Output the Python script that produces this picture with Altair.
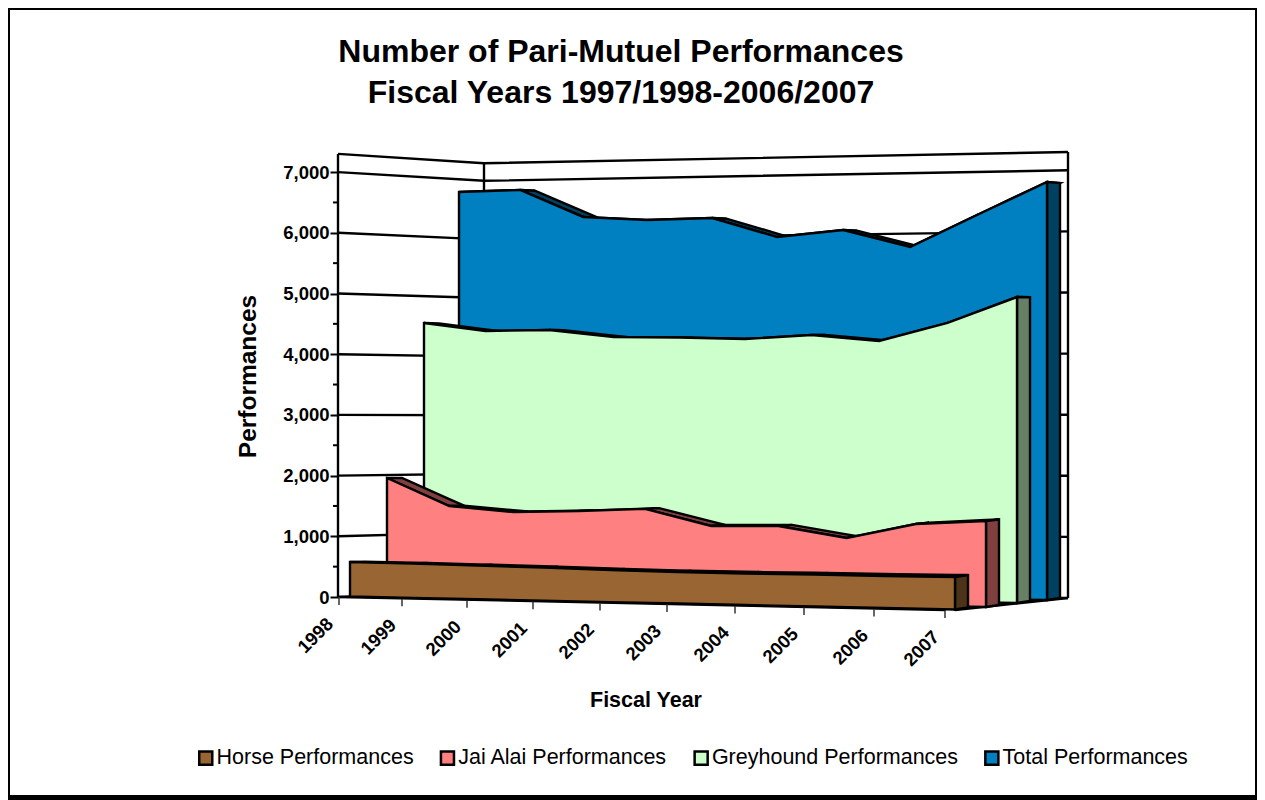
import altair as alt
import pandas as pd

years = ["1998", "1999", "2000", "2001", "2002", "2003", "2004", "2005", "2006", "2007"]
series_names = ["Horse Performances", "Jai Alai Performances", "Greyhound Performances", "Total Performances"]
horse = [570, 568, 556, 547, 529, 518, 518, 525, 525, 533]
jai_alai = [1950, 1501, 1420, 1456, 1510, 1248, 1266, 1089, 1340, 1410]
greyhound = [4546, 4417, 4438, 4327, 4324, 4304, 4377, 4284, 4586, 5016]
total = [6780, 6804, 6340, 6281, 6305, 5980, 6089, 5800, 6329, 6852]
front_colors = ["#996633", "#FF8080", "#CCFFCC", "#0080C0"]
dark_colors = ["#4D331A", "#804040", "#668066", "#004060"]
y_ticks = [0, 1000, 2000, 3000, 4000, 5000, 6000, 7000]
y_minor = [500, 1500, 2500, 3500, 4500, 5500, 6500]
wall_top = 7300

# projection of the 3-D box
W, H = 1249, 792
SW = 2.4
Y0, PX = 597.0, 0.0607
def val(py):
    return (Y0 - py) / PX
tick_x = [339, 402, 467, 533, 600, 667, 735, 804, 874, 945]
F = [(t - tick_x[0]) / (tick_x[-1] - tick_x[0]) for t in tick_x]
LEFT = [350, 387, 424, 459]
RIGHT = [955, 986, 1017, 1047]
BASE_L = [596.5, 595, 593.5, 592]
BASE_R = [609.5, 607, 603, 600]
SCALE_L = [60.5, 60, 59.5, 59]
SCALE_R = 61.0

def lerp(a, b, t):
    return a + (b - a) * t
def front(k, i, v):
    f = F[i]
    return lerp(LEFT[k], RIGHT[k], f), lerp(BASE_L[k], BASE_R[k], f) - v / 1000 * lerp(SCALE_L[k], SCALE_R, f)
def back(k, i, v):
    f = F[i]
    x, y = front(k, i, v)
    dx = lerp(15, 13, f)
    dy = lerp(-0.5 + 1.2 * v / 6700, -2.2 + 3.2 * v / 6800, f)
    return x + dx, y + dy

def envelope(pts, seg=0):
    rows = []
    n = len(pts)
    for x in sorted({p[0] for p in pts}):
        ys = []
        for j in range(n):
            a, b = pts[j], pts[(j + 1) % n]
            lo, hi = min(a[0], b[0]), max(a[0], b[0])
            if lo <= x <= hi:
                if a[0] == b[0]:
                    ys += [a[1], b[1]]
                else:
                    ys.append(lerp(a[1], b[1], (x - a[0]) / (b[0] - a[0])))
        rows.append({"x": x, "y": val(min(ys)), "y2": val(max(ys)), "seg": seg})
    return rows

X_SCALE = alt.Scale(domain=[8, 8 + W], range=[0, W], nice=False, zero=False)
Y_SCALE = alt.Scale(domain=[val(8 + H), val(8)], range=[H, 0], nice=False, zero=False)
X_AXIS = alt.Axis(title="Fiscal Year", domain=False, ticks=False, labels=False, grid=False,
                  titleFont="Liberation Sans", titleFontSize=21.5, titleFontWeight="bold", titleColor="black",
                  titleX=645.5 - 8, titleY=700 - 8 - H, titleBaseline="middle")
Y_AXIS = alt.Axis(values=y_ticks, labelExpr="format(datum.value, ',')", offset=-(338 - 8), domain=False, grid=False,
                  tickSize=8, tickWidth=2, tickColor="black", labelPadding=1,
                  labelFont="Liberation Sans", labelFontSize=18.5, labelFontWeight="bold", labelColor="black",
                  title="Performances", titleFont="Liberation Sans", titleFontSize=24.5, titleFontWeight="bold",
                  titleColor="black", titleX=248 - 338, titleY=376 - 8, titleAngle=270, titleBaseline="middle")
def X():
    return alt.X("x:Q", scale=X_SCALE, axis=X_AXIS)
def Y():
    return alt.Y("y:Q", scale=Y_SCALE, stack=None, axis=Y_AXIS)

layers = []

# frame
frame = pd.DataFrame([
    {"x": 8, "x2": 10, "y": val(8), "y2": val(797)},
    {"x": 8, "x2": 1257, "y": val(8), "y2": val(10)},
    {"x": 1255, "x2": 1257, "y": val(8), "y2": val(800)},
    {"x": 8, "x2": 1257, "y": val(795), "y2": val(800)},
])
layers.append(alt.Chart(frame).mark_rect(fill="black").encode(x=X(), x2="x2:Q", y=Y(), y2="y2:Q"))

# walls and floor edges
wall_rows = []
for v in y_ticks + [wall_top]:
    wall_rows += [
        {"x": 338, "y": val(597 - 60.7 * v / 1000), "id": v},
        {"x": 484, "y": val(591 - 58.6 * v / 1000), "id": v},
        {"x": 1068, "y": val(598 - 61.1 * v / 1000), "id": v},
    ]
wall_rows += [
    {"x": 338, "y": val(597), "id": -1}, {"x": 338.01, "y": wall_top, "id": -1},
    {"x": 484, "y": val(591), "id": -2}, {"x": 484.01, "y": val(591 - 58.6 * wall_top / 1000), "id": -2},
    {"x": 1068, "y": val(598), "id": -3}, {"x": 1068.01, "y": val(598 - 61.1 * wall_top / 1000), "id": -3},
    {"x": 339, "y": val(597), "id": -4}, {"x": 945, "y": val(610), "id": -4},
    {"x": 955, "y": val(610), "id": -5}, {"x": 1068, "y": val(598), "id": -5},
]
layers.append(alt.Chart(pd.DataFrame(wall_rows)).mark_line(color="black", strokeWidth=SW).encode(
    x=X(), y=Y(), detail="id:N"))

# minor ticks on the value axis
layers.append(alt.Chart(pd.DataFrame({"y": y_minor, "x": [333] * 7, "x2": [338] * 7})).mark_rule(
    color="black", strokeWidth=2).encode(x=X(), x2="x2:Q", y=Y()))

# category ticks
tick_rows = pd.DataFrame({"x": tick_x, "y": [val(597 + 13 * f) for f in F], "y2": [val(605 + 13 * f) for f in F]})
layers.append(alt.Chart(tick_rows).mark_rule(color="#333333", strokeWidth=1.5).encode(x=X(), y=Y(), y2="y2:Q"))

# category labels
label_rows = pd.DataFrame({"x": [t - 9 for t in tick_x], "y": [val(621 + 13 * f) for f in F], "label": years})
layers.append(alt.Chart(label_rows).mark_text(angle=315, align="right", baseline="middle", font="Liberation Sans",
                                              fontSize=18.5, fontWeight="bold", color="black").encode(
    x=X(), y=Y(), text="label:N"))

# slabs, rear to front
all_values = [horse, jai_alai, greyhound, total]
for k in [3, 2, 1, 0]:
    vals = all_values[k]
    lip = []
    for i in range(len(vals) - 1):
        a, b = front(k, i, vals[i]), front(k, i + 1, vals[i + 1])
        c, d = back(k, i + 1, vals[i + 1]), back(k, i, vals[i])
        lip += envelope([a, b, c, d], seg=i)
    layers.append(alt.Chart(pd.DataFrame(lip)).mark_area(fill=dark_colors[k], stroke="black", strokeWidth=SW,
                                                         orient="vertical").encode(
        x=X(), y=Y(), y2="y2:Q", detail="seg:N"))
    last = len(vals) - 1
    rx, ry = front(k, last, vals[last])
    bx, by = back(k, last, vals[last])
    rb = BASE_R[k]
    side = envelope([(rx, ry), (bx, by), (bx, rb - 2), (rx, rb)])
    layers.append(alt.Chart(pd.DataFrame(side)).mark_area(fill=dark_colors[k], stroke="black", strokeWidth=SW,
                                                          orient="vertical").encode(
        x=X(), y=Y(), y2="y2:Q"))
    face = []
    for i, v in enumerate(vals):
        x, y = front(k, i, v)
        face.append({"x": x, "y": val(y), "y2": val(lerp(BASE_L[k], BASE_R[k], F[i])), "series": series_names[k]})
    layers.append(alt.Chart(pd.DataFrame(face)).mark_area(stroke="black", strokeWidth=SW, orient="vertical").encode(
        x=X(), y=Y(), y2="y2:Q",
        fill=alt.Fill("series:N", scale=alt.Scale(domain=series_names, range=front_colors),
                      legend=alt.Legend(orient="none", direction="horizontal", columns=4, legendX=187,
                                        legendY=747 - 8, title=None, symbolType="square", symbolSize=170,
                                        symbolStrokeColor="black", symbolStrokeWidth=2.5, symbolOpacity=1,
                                        labelFont="Liberation Sans", labelFontSize=21.5, labelColor="black",
                                        labelOffset=0, columnPadding=21.7, labelLimit=400)),
    ))

chart = alt.layer(*layers).properties(
    width=W, height=H, padding=0, autosize=alt.AutoSizeParams(type="none"),
    title=alt.TitleParams(text=["Number of Pari-Mutuel Performances", "Fiscal Years 1997/1998-2006/2007"],
                          font="Liberation Sans", fontSize=32, fontWeight="bold", color="black",
                          anchor="start", align="center", dx=621 - 8, offset=-102, lineHeight=41),
).configure_view(stroke=None)

chart.save("out.html", embed_options={"renderer": "svg", "actions": False})
